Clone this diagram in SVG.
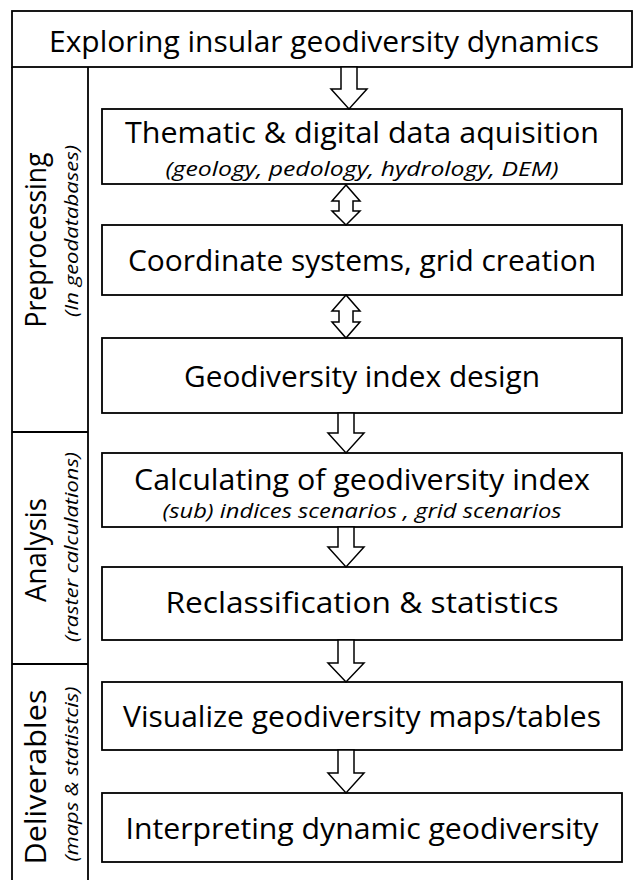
<svg xmlns="http://www.w3.org/2000/svg" width="637" height="880" viewBox="0 0 637 880">
<style>
.box{fill:#fff;stroke:#000;stroke-width:1.8}
.ln{fill:none;stroke:#000;stroke-width:1.8}
.arr{fill:#fff;stroke:#000;stroke-width:1.5;stroke-linejoin:miter}
.t{font-family:"Open Sans","Liberation Sans",sans-serif;font-size:30px;fill:#000;text-anchor:middle}
.s{font-family:"Open Sans","Liberation Sans",sans-serif;font-size:20px;font-style:italic;fill:#000;text-anchor:middle}
.st{font-family:"Open Sans","Liberation Sans",sans-serif;font-size:19px;font-style:italic;fill:#000;text-anchor:middle}
</style>
<rect width="637" height="880" fill="#fff"/>
<g id="title"><rect class="box" x="12" y="11" width="620" height="56"/><text class="t" x="324" y="52" textLength="550" lengthAdjust="spacingAndGlyphs">Exploring insular geodiversity dynamics</text></g>
<g id="sidebar">
<line class="ln" x1="12" y1="67" x2="12" y2="880"/>
<line class="ln" x1="88" y1="67" x2="88" y2="880"/>
<line class="ln" x1="12" y1="432" x2="88" y2="432"/>
<line class="ln" x1="12" y1="664" x2="88" y2="664"/>
</g>
<g id="phase-preprocessing"><text class="t" transform="translate(46,240) rotate(-90)" textLength="175" lengthAdjust="spacingAndGlyphs">Preprocessing</text><text class="st" transform="translate(78,231) rotate(-90)" textLength="172" lengthAdjust="spacingAndGlyphs">(In geodatabases)</text></g>
<g id="phase-analysis"><text class="t" transform="translate(46,550) rotate(-90)" textLength="104" lengthAdjust="spacingAndGlyphs">Analysis</text><text class="st" transform="translate(78,547) rotate(-90)" textLength="190" lengthAdjust="spacingAndGlyphs">(raster calculations)</text></g>
<g id="phase-deliverables"><text class="t" transform="translate(46,777) rotate(-90)" textLength="175" lengthAdjust="spacingAndGlyphs">Deliverables</text><text class="st" transform="translate(78,774) rotate(-90)" textLength="175" lengthAdjust="spacingAndGlyphs">(maps &amp; statistcis)</text></g>
<g id="n1"><rect class="box" x="102" y="109" width="520" height="75"/><text class="t" x="362" y="143" textLength="474" lengthAdjust="spacingAndGlyphs">Thematic &amp; digital data aquisition</text><text class="s" x="362" y="176" textLength="393" lengthAdjust="spacingAndGlyphs">(geology, pedology, hydrology, DEM)</text></g>
<g id="n2"><rect class="box" x="102" y="225" width="520" height="70"/><text class="t" x="362" y="271" textLength="468" lengthAdjust="spacingAndGlyphs">Coordinate systems, grid creation</text></g>
<g id="n3"><rect class="box" x="102" y="338" width="520" height="75"/><text class="t" x="362" y="387" textLength="356" lengthAdjust="spacingAndGlyphs">Geodiversity index design</text></g>
<g id="n4"><rect class="box" x="102" y="453" width="520" height="74"/><text class="t" x="362" y="490" textLength="456" lengthAdjust="spacingAndGlyphs">Calculating of geodiversity index</text><text class="s" x="362" y="518" textLength="399" lengthAdjust="spacingAndGlyphs">(sub) indices scenarios , grid scenarios</text></g>
<g id="n5"><rect class="box" x="102" y="567" width="520" height="73"/><text class="t" x="362" y="613" textLength="393" lengthAdjust="spacingAndGlyphs">Reclassification &amp; statistics</text></g>
<g id="n6"><rect class="box" x="102" y="682" width="520" height="68"/><text class="t" x="362" y="727" textLength="478" lengthAdjust="spacingAndGlyphs">Visualize geodiversity maps/tables</text></g>
<g id="n7"><rect class="box" x="102" y="793" width="520" height="69"/><text class="t" x="362" y="839" textLength="473" lengthAdjust="spacingAndGlyphs">Interpreting dynamic geodiversity</text></g>
<g id="connectors">
<path class="arr" d="M341,67 V89 H331 L349,109 L367,89 H357 V67 Z"/>
<path class="arr" d="M346,185 L332,201 H339 V211 H332 L346,225 L360,211 H353 V201 H360 Z"/>
<path class="arr" d="M346,295 L332,311 H339 V322 H332 L346,338 L360,322 H353 V311 H360 Z"/>
<path class="arr" d="M338,413 V433 H328 L346,453 L364,433 H354 V413 Z"/>
<path class="arr" d="M338,527 V547 H328 L346,567 L364,547 H354 V527 Z"/>
<path class="arr" d="M338,640 V663 H328 L346,682 L364,663 H354 V640 Z"/>
<path class="arr" d="M338,750 V773 H328 L346,793 L364,773 H354 V750 Z"/>
</g>
</svg>
